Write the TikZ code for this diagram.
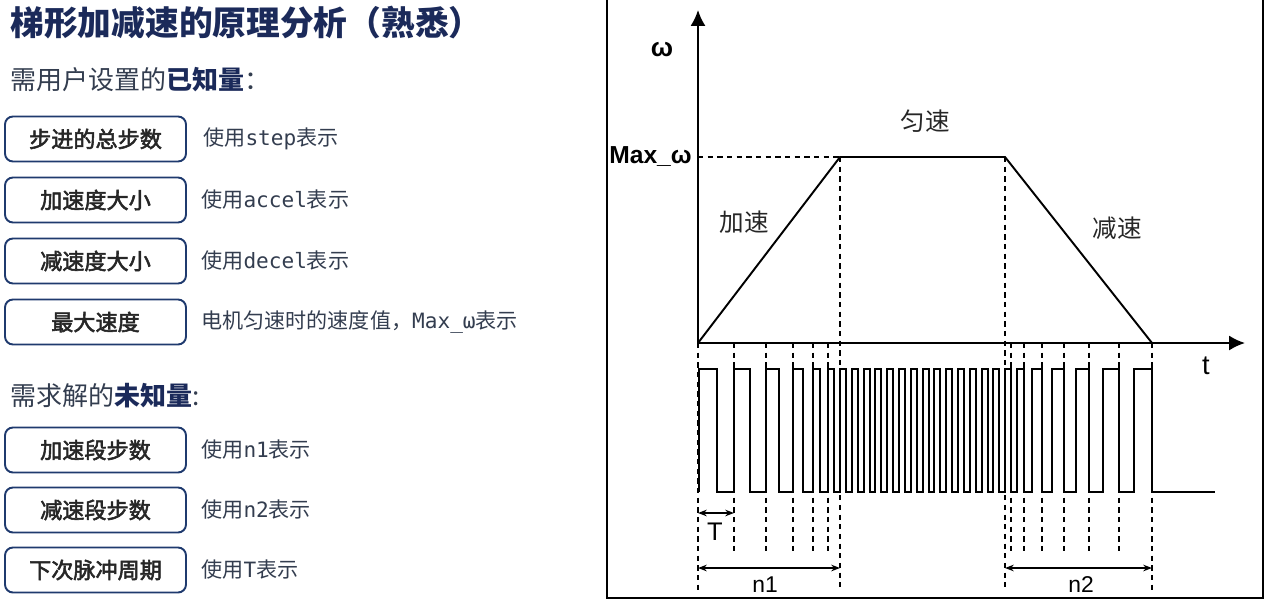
\documentclass[tikz,border=0pt]{standalone}
\usepackage{fontspec}
\setmainfont{Noto Sans CJK SC}
\setmonofont{DejaVu Sans Mono}
\newfontfamily\arialfont{Liberation Sans}
\newfontfamily\boxfont[FakeBold=2.5]{Noto Sans CJK SC}
\usetikzlibrary{arrows.meta}
\definecolor{navy}{HTML}{1B2A5A}
\definecolor{boxblue}{HTML}{1F3A6E}
\definecolor{slate}{HTML}{333D4F}

\begin{document}
\begin{tikzpicture}[x=0.02cm,y=-0.02cm,
    parambox/.style={draw=boxblue,line width=1.1pt,rounded corners=4.5pt,minimum width=3.62cm,minimum height=0.9cm,inner sep=0pt,font=\boxfont\fontsize{12.6pt}{14pt}\selectfont,text=black!85},
    desc/.style={anchor=west,inner sep=0pt,font=\fontsize{12pt}{14pt}\selectfont,text=slate},
    heading/.style={anchor=west,inner sep=0pt,font=\fontsize{14.8pt}{17pt}\selectfont,text=slate},
    axis/.style={line width=1.1pt,-{Latex[length=9pt,width=8.5pt]}},
    guide/.style={line width=0.8pt,dash pattern=on 3pt off 2.5pt},
    dim/.style={line width=0.8pt,{Stealth[length=5pt]}-{Stealth[length=5pt]}},
    lbl/.style={inner sep=0pt,font=\arialfont\fontsize{13pt}{15pt}\selectfont}]

    \useasboundingbox (0,0) rectangle (1270,605);

    % Title and headings
    \node[anchor=west,inner sep=0pt,text=navy,font=\fontsize{19.2pt}{22pt}\selectfont\bfseries] (title) at (10,23) {梯形加减速的原理分析（熟悉）};
    \node[heading] (known) at (10,80) {需用户设置的{\bfseries\color{navy}已知量}：};
    \node[heading] (unknown) at (10,396) {需求解的{\bfseries\color{navy}未知量}:};

    % Known parameters
    \node[parambox] (step) at (95.5,139) {步进的总步数};
    \node[parambox] (accel) at (95.5,200) {加速度大小};
    \node[parambox] (decel) at (95.5,261) {减速度大小};
    \node[parambox] (maxw) at (95.5,322) {最大速度};
    \node[desc] (stepd) at (203,139) {使用\texttt{step}表示};
    \node[desc] (acceld) at (201,200) {使用\texttt{accel}表示};
    \node[desc] (deceld) at (201,261) {使用\texttt{decel}表示};
    \node[desc] (maxwd) at (201,322) {电机匀速时的速度值，\texttt{Max\_ω}表示};

    % Unknown parameters
    \node[parambox] (nacc) at (95.5,450) {加速段步数};
    \node[parambox] (ndec) at (95.5,510) {减速段步数};
    \node[parambox] (period) at (95.5,570) {下次脉冲周期};
    \node[desc] (naccd) at (201,450) {使用\texttt{n1}表示};
    \node[desc] (ndecd) at (201,510) {使用\texttt{n2}表示};
    \node[desc] (periodd) at (201,570) {使用\texttt{T}表示};

    % Frame of the plot
    \draw[line width=0.8pt] (607,-5) -- (607,598) -- (1263,598) -- (1263,-5);

    % Axes
    \coordinate (O) at (698,343);
    \coordinate (ytip) at (698,10);
    \coordinate (xtip) at (1245,343);
    \draw[axis] (O) -- (ytip);
    \draw[axis] (O) -- (xtip);
    \node[lbl,font=\arialfont\bfseries\fontsize{15pt}{16pt}\selectfont] (wlab) at (662,50) {ω};
    \node[lbl,anchor=east,font=\arialfont\bfseries\fontsize{14pt}{16pt}\selectfont] (maxlab) at (692,157) {Max\_ω};
    \node[lbl,font=\arialfont\fontsize{15.5pt}{16pt}\selectfont] (tlab) at (1206,366) {t};

    % Speed profile
    \coordinate (A) at (840,157);
    \coordinate (B) at (1005,157);
    \coordinate (C) at (1152,343);
    \draw[guide] (698,157) -- (A);
    \draw[line width=1.1pt] (O) -- (A) -- (B) -- (C);
    \node[font=\fontsize{14pt}{16pt}\selectfont,text=black!85] (cruise) at (925,121) {匀速};
    \node[font=\fontsize{14pt}{16pt}\selectfont,text=black!85] (speedup) at (744,222) {加速};
    \node[font=\fontsize{14pt}{16pt}\selectfont,text=black!85] (slowdown) at (1117,228) {减速};

    % Guide lines
    \foreach \x in {734,766,793,813,828,1011,1024,1042,1064,1089,1119}
        \draw[guide] (\x,343) -- (\x,551);
    \draw[guide] (O) -- (698,590);
    \draw[guide] (A) -- (840,590);
    \draw[guide] (B) -- (1005,590);
    \draw[guide] (C) -- (1152,590);

    % Pulse train
    \draw[line width=1.05pt] (699,492)
        \foreach \r/\f in {699/717,734/750,766/779,793/803,813/820,828/834,
            840/846,851.8/857.8,863.6/869.6,875.4/881.4,887.2/893.2,899/905,910.8/916.8,
            922.6/928.6,934.4/940.4,946.2/952.2,958/964,969.8/975.8,981.6/987.6,993.4/999.4,
            1005/1011,1017/1024,1032/1042,1052/1064,1076/1089,1103/1119,1134/1152}
        { -- (\r,492) -- (\r,369) -- (\f,369) -- (\f,492) } -- (1215,492);

    % Dimensions
    \coordinate (t0) at (698,513);
    \coordinate (t1) at (734,513);
    \coordinate (n1a) at (698,568);
    \coordinate (n1b) at (840,568);
    \coordinate (n2a) at (1005,568);
    \coordinate (n2b) at (1152,568);
    \draw[dim] (t0) -- (t1);
    \draw[dim] (n1a) -- (n1b);
    \draw[dim] (n2a) -- (n2b);
    \node[lbl,font=\arialfont\fontsize{14.5pt}{16pt}\selectfont] (tl) at (715,532) {T};
    \node[lbl] (n1l) at (765,585) {n1};
    \node[lbl] (n2l) at (1081,585) {n2};
\end{tikzpicture}
\end{document}
